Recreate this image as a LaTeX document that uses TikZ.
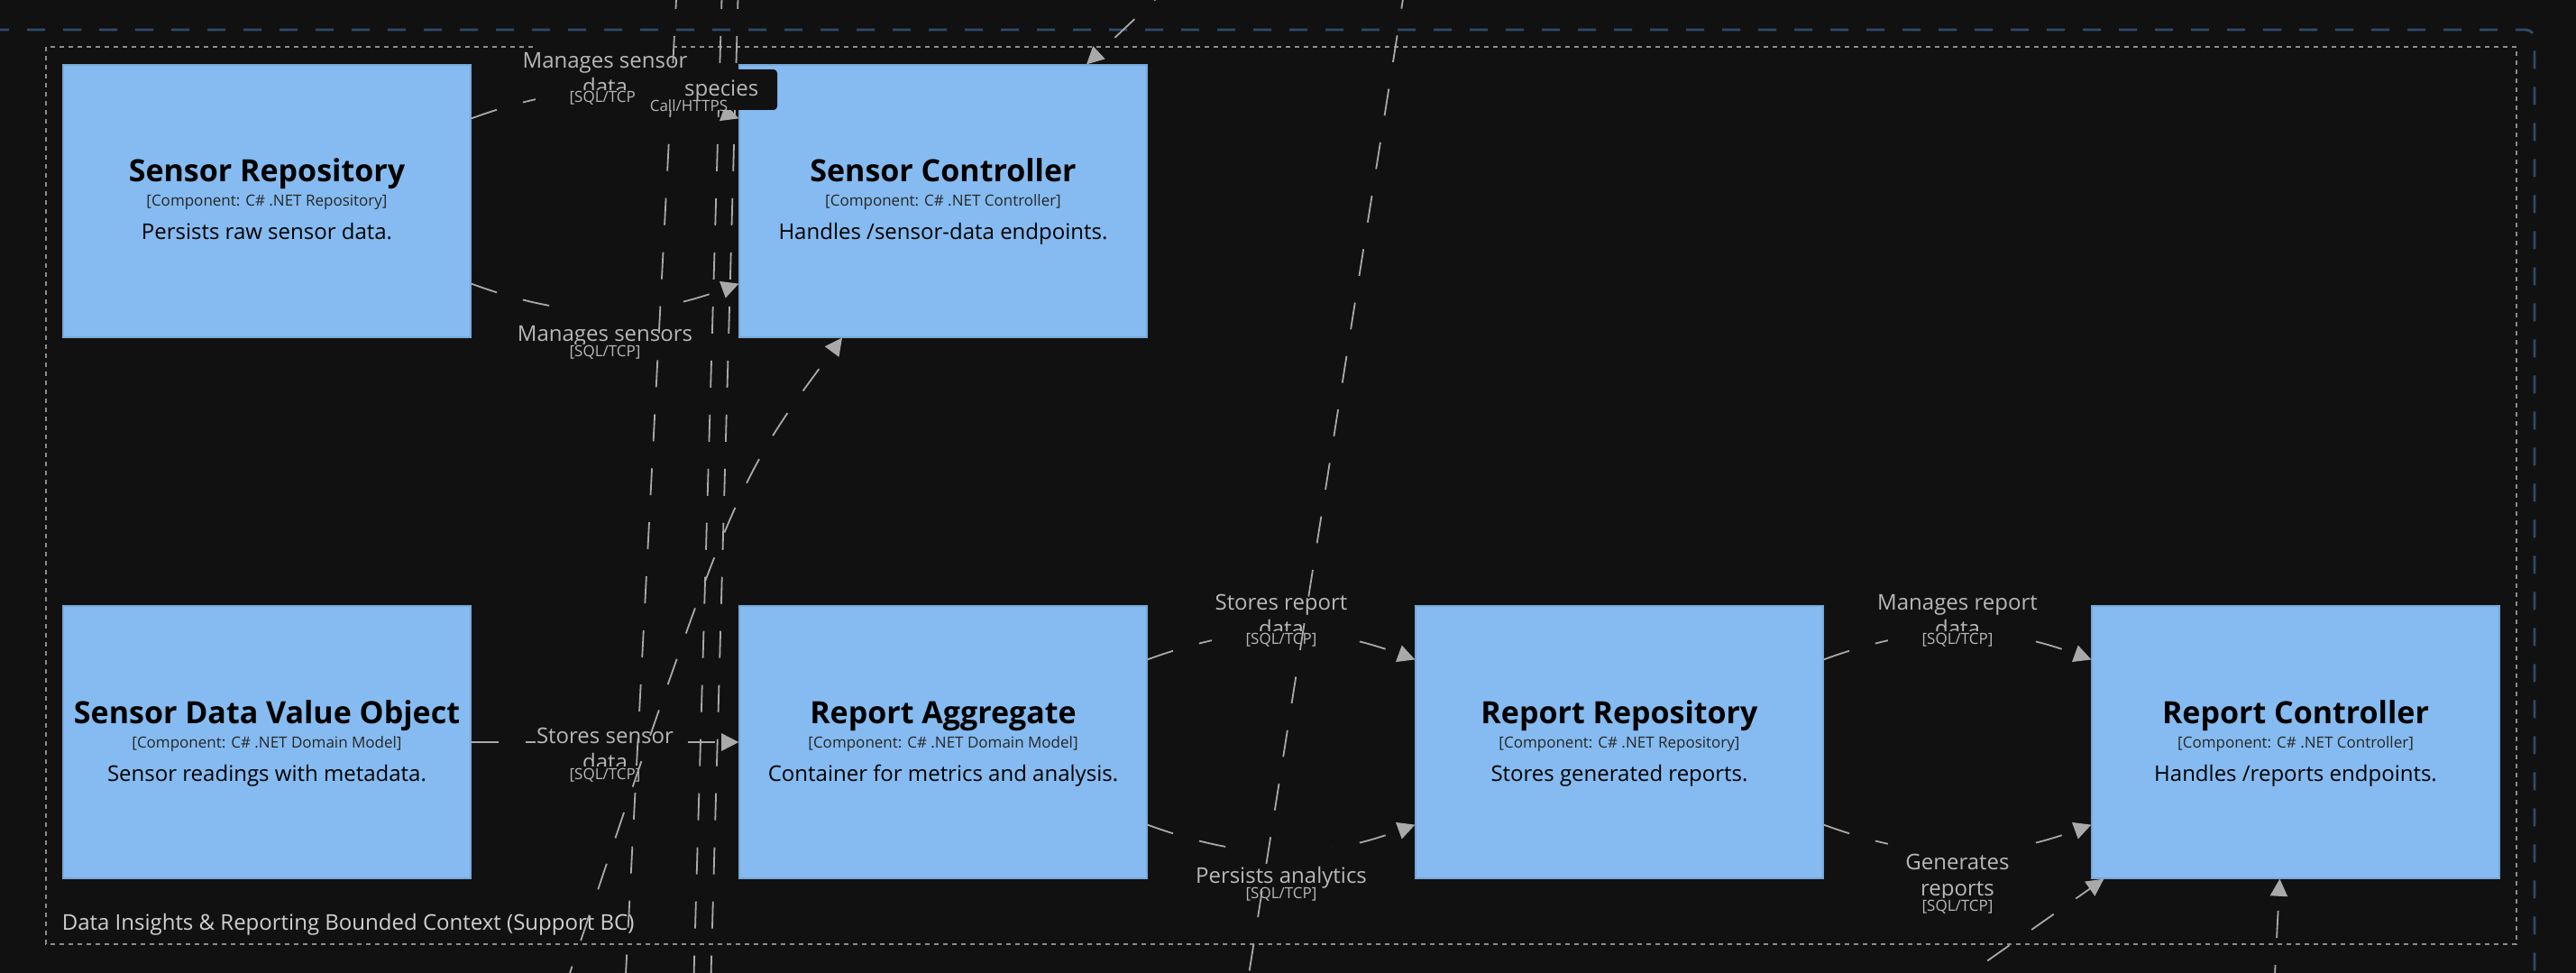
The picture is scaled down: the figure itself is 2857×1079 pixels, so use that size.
\documentclass[tikz,border=0pt]{standalone}
\usepackage{fontspec}
\setmainfont{Open Sans}
\usetikzlibrary{arrows.meta}
\definecolor{canvas}{HTML}{111111}
\definecolor{compfill}{HTML}{85BBF0}
\definecolor{compline}{HTML}{78A8D8}
\definecolor{relgrey}{HTML}{A9A9A9}
\definecolor{reltext}{HTML}{B8B8B8}
\definecolor{ctxgrey}{HTML}{8C8C8C}
\definecolor{ctxtext}{HTML}{D0D0D0}
\definecolor{outerblue}{HTML}{2E4B6B}
\tikzset{
  comp/.style={draw=compline, line width=0.3pt, fill=compfill, minimum width=113pt, minimum height=75.5pt, inner sep=0pt},
  ctitle/.style={anchor=base, font=\fontsize{8.5}{9}\selectfont\bfseries, text=black, inner sep=0pt},
  ctype/.style={anchor=base, font=\fontsize{4.25}{5}\selectfont, text=black!85, inner sep=0pt},
  cdesc/.style={anchor=base, font=\fontsize{6}{7}\selectfont, text=black, inner sep=0pt},
  rel/.style={draw=relgrey, line width=0.45pt, dash pattern=on 7.5pt off 7.5pt, -{Triangle[length=4.8pt,width=4.8pt,fill=relgrey]}},
  ext/.style={draw=relgrey, line width=0.45pt, dash pattern=on 7.5pt off 7.5pt},
  lblbg/.style={fill=canvas, inner sep=0pt, minimum width=38.5pt},
  rtext/.style={anchor=base, font=\fontsize{6}{7}\selectfont, text=reltext, inner sep=0pt},
  rtech/.style={anchor=base, font=\fontsize{4.25}{5}\selectfont, text=reltext, fill=canvas, inner sep=0.5pt},
}
\begin{document}
\begin{tikzpicture}[x=0.25pt, y=0.25pt]
\fill[canvas] (0,0) rectangle (2857,-1079);
\useasboundingbox (0,0) rectangle (2857,-1079);
\draw[outerblue, line width=0.7pt, dash pattern=on 5pt off 5pt, rounded corners=2.5pt] (-10,-33) -- (2811,-33) -- (2811,-1100);
\draw[ctxgrey, line width=0.35pt, dash pattern=on 1.25pt off 1.25pt] (51,-52) rectangle (2791,-1047);

\node[comp] (sr) at (296,-223) {};
\node[comp] (sc) at (1046,-223) {};
\node[comp] (sdvo) at (296,-823) {};
\node[comp] (ra) at (1046,-823) {};
\node[comp] (rr) at (1796,-823) {};
\node[comp] (rc) at (2546,-823) {};

\node[ctitle] (sr-t) at (296,-202) {Sensor Repository};
\node[ctype] (sr-y) at (296,-229) {[Component: C\# .NET Repository]};
\node[cdesc] (sr-d) at (296,-266) {Persists raw sensor data.};
\node[ctitle] (sc-t) at (1046,-202) {Sensor Controller};
\node[ctype] (sc-y) at (1046,-229) {[Component: C\# .NET Controller]};
\node[cdesc] (sc-d) at (1046,-266) {Handles /sensor-data endpoints.};
\node[ctitle] (sdvo-t) at (296,-802) {Sensor Data Value Object};
\node[ctype] (sdvo-y) at (296,-829) {[Component: C\# .NET Domain Model]};
\node[cdesc] (sdvo-d) at (296,-866) {Sensor readings with metadata.};
\node[ctitle] (ra-t) at (1046,-802) {Report Aggregate};
\node[ctype] (ra-y) at (1046,-829) {[Component: C\# .NET Domain Model]};
\node[cdesc] (ra-d) at (1046,-866) {Container for metrics and analysis.};
\node[ctitle] (rr-t) at (1796,-802) {Report Repository};
\node[ctype] (rr-y) at (1796,-829) {[Component: C\# .NET Repository]};
\node[cdesc] (rr-d) at (1796,-866) {Stores generated reports.};
\node[ctitle] (rc-t) at (2546,-802) {Report Controller};
\node[ctype] (rc-y) at (2546,-829) {[Component: C\# .NET Controller]};
\node[cdesc] (rc-d) at (2546,-866) {Handles /reports endpoints.};

\draw[rel] ([yshift=-15pt]sr.north east) to[bend left=20] ([yshift=-15pt]sc.north west);
\draw[rel] ([yshift=15pt]sr.south east) to[bend right=20] ([yshift=15pt]sc.south west);
\draw[rel] (sdvo.east) -- (ra.west);
\draw[rel] ([yshift=-15pt]ra.north east) to[bend left=20] ([yshift=-15pt]rr.north west);
\draw[rel] ([yshift=15pt]ra.south east) to[bend right=20] ([yshift=15pt]rr.south west);
\draw[rel] ([yshift=-15pt]rr.north east) to[bend left=20] ([yshift=-15pt]rc.north west);
\draw[rel] ([yshift=15pt]rr.south east) to[bend right=20] ([yshift=15pt]rc.south west);

\node[lblbg, minimum height=19pt] (msd) at (671,-88) {};
\node[rtext] (msd-1) at (671,-76) {Manages sensor};
\node[rtext] (msd-2) at (671,-105) {data};
\node[rtech] (msd-3) at (671,-114) {[SQL/TCP]};
\node[lblbg, minimum height=16pt] (ms) at (671,-372) {};
\node[rtext] (ms-1) at (671,-379) {Manages sensors};
\node[rtech] (ms-2) at (671,-396) {[SQL/TCP]};
\node[lblbg, minimum height=18pt] (ssd) at (671,-836) {};
\node[rtext] (ssd-1) at (671,-824) {Stores sensor};
\node[rtext] (ssd-2) at (671,-853) {data};
\node[rtech] (ssd-3) at (671,-864) {[SQL/TCP]};
\node[lblbg, minimum height=19pt] (srd) at (1421,-688) {};
\node[rtext] (srd-1) at (1421,-676) {Stores report};
\node[rtext] (srd-2) at (1421,-705) {data};
\node[rtech] (srd-3) at (1421,-714) {[SQL/TCP]};
\node[lblbg, minimum height=16pt] (pa) at (1421,-972) {};
\node[rtext] (pa-1) at (1421,-979) {Persists analytics};
\node[rtech] (pa-2) at (1421,-996) {[SQL/TCP]};
\node[lblbg, minimum height=19pt] (mrd) at (2171,-688) {};
\node[rtext] (mrd-1) at (2171,-676) {Manages report};
\node[rtext] (mrd-2) at (2171,-705) {data};
\node[rtech] (mrd-3) at (2171,-714) {[SQL/TCP]};
\node[lblbg, minimum height=22.5pt] (gr) at (2171,-973) {};
\node[rtext] (gr-1) at (2171,-964) {Generates};
\node[rtext] (gr-2) at (2171,-993) {reports};
\node[rtech] (gr-3) at (2171,-1010) {[SQL/TCP]};

\node[rtext, anchor=base west, text=ctxtext] (ctx) at (68,-1031) {Data Insights \& Reporting Bounded Context (Support BC)};

\coordinate (l1a) at (751,20);
\coordinate (l1b) at (693,-1100);
\coordinate (l2a) at (801,20);
\coordinate (l2b) at (769,-1100);
\coordinate (l3a) at (819,20);
\coordinate (l3b) at (788,-1100);
\coordinate (l4a) at (1302,20);
\coordinate (l5a) at (1559,20);
\coordinate (l5b) at (1382,-1100);
\coordinate (e0) at (625,-1100);
\coordinate (e1) at (815,-535);
\coordinate (l7a) at (2155,-1100);
\coordinate (l8a) at (2522,-1100);
\draw[ext] (l1a) -- (l1b);
\draw[ext] (l2a) -- (l2b);
\draw[ext] (l3a) -- (l3b);
\draw[ext] (l5a) -- (l5b);
\draw[rel] (l4a) -- ([xshift=39.75pt]sc.north);
\draw[rel] (e0) .. controls (e1) .. ([xshift=-28pt]sc.south);
\draw[rel] (l7a) -- ([xshift=3.5pt]rc.south west);
\draw[rel] (l8a) -- ([xshift=-4.4pt]rc.south);

\node[fill=canvas, rounded corners=1pt, minimum width=39.25pt, minimum height=11.25pt, inner sep=0pt] (sp) at (783.5,-99.5) {};
\node[rtext, anchor=base east] (sp-1) at (842,-107) {species};
\node[rtext, anchor=base west, font=\fontsize{4.25}{5}\selectfont] (sp-2) at (720,-124) {Call/HTTPS};
\end{tikzpicture}
\end{document}
